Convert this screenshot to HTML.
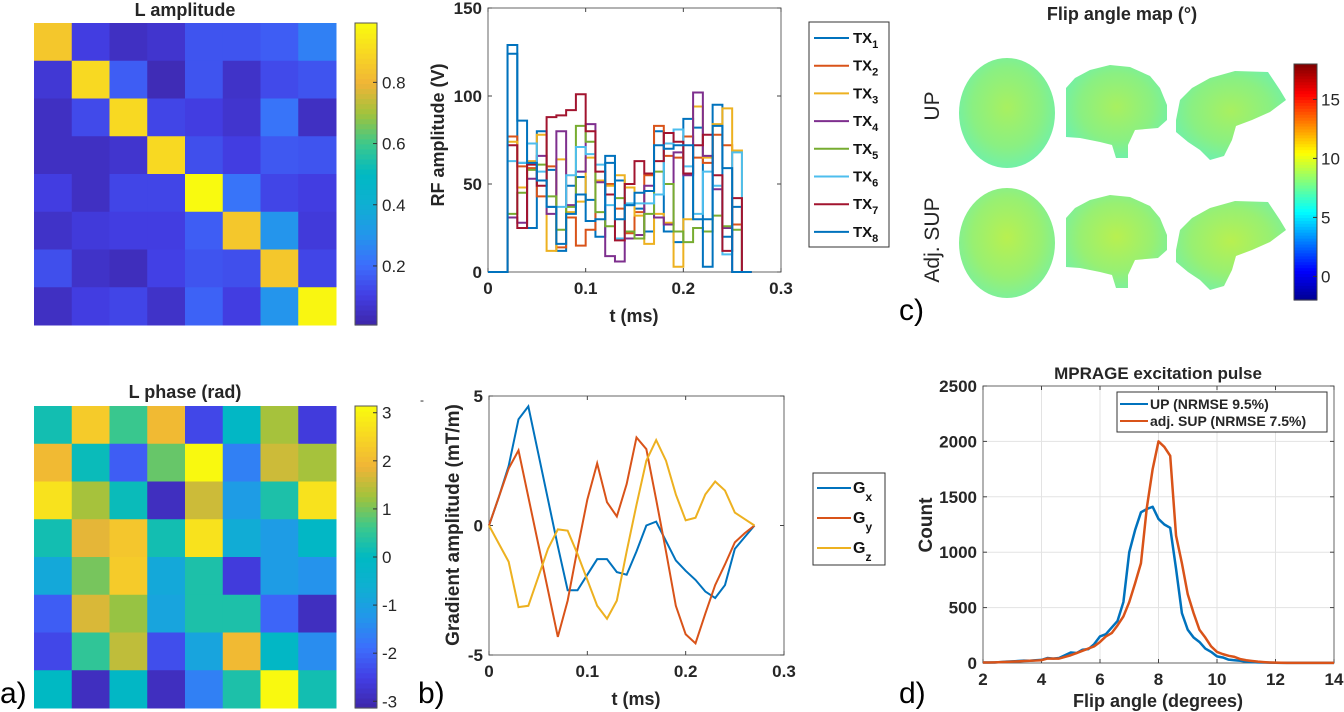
<!DOCTYPE html>
<html><head><meta charset="utf-8">
<style>
html,body{margin:0;padding:0;background:#fff;}
svg{display:block;font-family:"Liberation Sans",Arial,sans-serif;}
</style></head>
<body>
<svg id="fig" width="1344" height="712" viewBox="0 0 1344 712" xmlns="http://www.w3.org/2000/svg"></svg>
<script>
// ---------- DATA ----------
const ampRows = [
 [0.85,0.10,0.05,0.07,0.15,0.15,0.17,0.25],
 [0.08,0.90,0.17,0.03,0.15,0.06,0.13,0.15],
 [0.05,0.13,0.90,0.12,0.10,0.07,0.22,0.05],
 [0.05,0.05,0.07,0.90,0.14,0.10,0.16,0.15],
 [0.10,0.05,0.12,0.12,0.99,0.22,0.12,0.10],
 [0.06,0.09,0.10,0.10,0.17,0.85,0.30,0.09],
 [0.14,0.06,0.04,0.11,0.15,0.14,0.85,0.12],
 [0.05,0.10,0.12,0.06,0.18,0.10,0.30,0.98]
];
const phaseRows = [
 [0.2,2.3,0.6,2.0,-2.4,-0.1,1.3,-2.6],
 [2.0,0.1,-2.1,0.9,3.1,-1.6,1.6,1.3],
 [2.7,1.3,0.1,-2.9,1.6,-1.1,0.3,2.7],
 [0.2,1.8,2.2,0.2,2.7,-0.7,-1.1,-0.1],
 [-0.8,1.0,2.3,-0.8,0.3,-2.6,-1.1,-1.3],
 [-2.1,1.7,1.2,-0.9,0.3,0.3,-2.0,-2.9],
 [-2.4,0.5,1.5,-2.3,-0.9,2.0,-0.1,-1.4],
 [0.0,-2.9,-0.1,-2.9,-1.6,0.3,3.1,0.2]
];
const ampTicks = [0.2,0.4,0.6,0.8];
const phaseTicks = [-3,-2,-1,0,1,2,3];

const rfTX1 = [124,62,25,80,58,12,49,54,41,20,66,52,38,36,23,80,23,17,87,82,30,95,20,37];
const rfTX2 = [77,60,59,43,60,14,31,15,24,52,50,36,22,34,55,83,66,65,77,65,62,78,72,27];
const rfTX3 = [74,48,63,78,12,64,34,40,65,52,49,55,48,32,16,33,28,3,30,94,65,84,93,69];
const rfTX4 = [31,28,53,66,33,80,38,57,84,51,9,6,19,21,49,31,27,68,55,102,66,47,25,0];
const rfTX5 = [33,45,58,61,43,24,37,83,74,34,26,42,23,19,33,57,50,23,17,25,23,32,26,24];
const rfTX6 = [63,62,73,57,37,37,55,71,67,61,38,19,39,39,39,44,73,81,60,33,57,49,10,68];
const rfTX7 = [72,25,61,49,88,89,92,101,80,57,44,18,50,63,56,63,79,74,56,72,78,55,12,42];
const rfTX8 = [129,86,62,52,37,16,33,44,29,30,62,30,38,45,46,72,70,72,72,30,3,83,59,0];
const rfStart = 0.02, rfStep = 0.01;
const rfXTicks = [0,0.1,0.2,0.3];
const rfYTicks = [0,50,100,150];

const gradT = [0,0.01,0.02,0.03,0.04,0.05,0.06,0.07,0.08,0.09,0.10,0.11,0.12,0.13,0.14,0.15,0.16,0.17,0.18,0.19,0.20,0.21,0.22,0.23,0.24,0.25,0.26,0.27];
const gradGx = [0,1.1,2.3,4.1,4.6,2.8,1.0,-0.8,-2.5,-2.5,-1.9,-1.3,-1.3,-1.8,-1.9,-1.0,0.0,0.15,-0.6,-1.35,-1.75,-2.1,-2.55,-2.8,-2.3,-0.9,-0.45,0];
const gradGy = [0,1.1,2.2,2.9,1.1,-0.7,-2.5,-4.3,-2.9,-0.9,1.0,2.4,0.9,0.35,1.6,3.4,2.95,1.0,-1.0,-3.1,-4.2,-4.55,-3.4,-2.3,-1.5,-0.65,-0.3,0];
const gradGz = [0,-0.7,-1.4,-3.15,-3.1,-2.0,-0.9,-0.15,-0.2,-1.1,-2.1,-3.1,-3.6,-2.9,-1.0,0.8,2.5,3.3,2.5,1.2,0.2,0.3,1.2,1.7,1.35,0.5,0.25,0];
const gradXTicks = [0,0.1,0.2,0.3];
const gradYTicks = [-5,0,5];

const histStart = 2, histStep = 0.2;
const histUP = [5,5,5,8,12,15,18,22,20,25,28,45,40,45,70,95,90,120,125,170,240,260,320,380,550,1000,1200,1360,1390,1410,1300,1250,1220,850,450,300,230,190,130,100,60,50,30,25,20,12,8,6,4,3,2,1,1,1,1,1,1,1,1,1,1];
const histSUP = [5,5,6,8,10,12,15,18,20,22,25,40,40,40,55,70,90,110,130,150,190,240,270,340,420,550,720,900,1400,1750,2000,1950,1870,1150,900,620,450,300,230,150,100,80,65,55,35,25,18,12,8,5,3,2,1,1,1,1,1,1,1,1,1];
const histXTicks = [2,4,6,8,10,12,14];
const histYTicks = [0,500,1000,1500,2000,2500];
const flipTicks = [0,5,10,15];

// ---------- HELPERS ----------
const NS = "http://www.w3.org/2000/svg";
const svg = document.getElementById('fig');
function mk(tag, attrs, parent){
  const e = document.createElementNS(NS, tag);
  for (const k in attrs) e.setAttribute(k, attrs[k]);
  (parent||svg).appendChild(e);
  return e;
}
function txt(x,y,s,size,weight,anchor,parent){
  const t = mk('text',{x:x,y:y,'font-size':size,'font-weight':weight||'normal','text-anchor':anchor||'start',fill:'#262626'},parent);
  t.textContent = s;
  return t;
}
function lerpStops(stops, v){
  v = Math.max(0, Math.min(1, v));
  for (let i=0;i<stops.length-1;i++){
    const a=stops[i], b=stops[i+1];
    if (v>=a[0] && v<=b[0]){
      const f=(v-a[0])/(b[0]-a[0]);
      return 'rgb('+[1,2,3].map(j=>Math.round(a[j]+(b[j]-a[j])*f)).join(',')+')';
    }
  }
  const l=stops[stops.length-1]; return 'rgb('+l[1]+','+l[2]+','+l[3]+')';
}
const parula = [[0,62,38,168],[0.1,66,62,228],[0.2,60,110,252],[0.3,35,150,235],[0.4,15,175,210],[0.5,0,185,195],[0.6,60,200,140],[0.7,160,195,60],[0.8,240,180,55],[0.9,248,215,35],[1,249,251,14]];
const jet = [[0,0,0,143],[0.125,0,0,255],[0.375,0,255,255],[0.625,255,255,0],[0.875,255,0,0],[1,128,0,0]];

// ---------- HEATMAP ----------
function heatmap(name, rows, y0, vmin, vmax, ticks, title, titleY){
  const g = mk('g',{});
  
  
  const x0=34, w=302, cs=w/8;
  rows.forEach((row,r)=>row.forEach((v,c)=>{
    const rc = mk('rect',{x:x0+c*cs,y:y0+r*cs,width:cs+0.5,height:cs+0.5,fill:lerpStops(parula,(v-vmin)/(vmax-vmin))},g);
    
    
  }));
  const t = txt(185,titleY,title,18,'bold','middle');
  
  
  const cb = mk('g',{});
  
  
  const n=60;
  for(let i=0;i<n;i++){
    mk('rect',{x:355,y:y0+w*(1-(i+1)/n),width:22,height:w/n+0.6,fill:lerpStops(parula,(i+0.5)/n)},cb);
  }
  mk('rect',{x:355,y:y0,width:22,height:w,fill:'none',stroke:'#555','stroke-width':1},cb);
  ticks.forEach(tv=>{
    const yy = y0 + w*(1-(tv-vmin)/(vmax-vmin));
    mk('line',{x1:373,x2:377,y1:yy,y2:yy,stroke:'#333'},cb);
    const tl = txt(382,yy+6,String(tv),17,'normal','start',cb);
    
    
  });
}
heatmap('l-amplitude-heatmap', ampRows, 23, 0.007, 0.994, ampTicks, 'L amplitude', 16);
heatmap('l-phase-heatmap', phaseRows, 406, -3.14, 3.14, phaseTicks, 'L phase (rad)', 398);
txt(420,404,'-',12,'normal','start');

// ---------- AXES HELPER ----------
function axes(name, L, R, T, B, xmin, xmax, ymin, ymax, xt, yt, fmtX, fmtY, grid){
  const g = mk('g',{});
  
  
  const sx = v => L + (v-xmin)/(xmax-xmin)*(R-L);
  const sy = v => B - (v-ymin)/(ymax-ymin)*(B-T);
  if (grid){
    xt.forEach(v=>mk('line',{x1:sx(v),x2:sx(v),y1:T,y2:B,stroke:'#e3e3e3','stroke-width':1},g));
    yt.forEach(v=>mk('line',{x1:L,x2:R,y1:sy(v),y2:sy(v),stroke:'#e3e3e3','stroke-width':1},g));
  }
  mk('rect',{x:L,y:T,width:R-L,height:B-T,fill:'none',stroke:'#666','stroke-width':1},g);
  xt.forEach(v=>{
    mk('line',{x1:sx(v),x2:sx(v),y1:B,y2:B-4,stroke:'#444'},g);
    mk('line',{x1:sx(v),x2:sx(v),y1:T,y2:T+4,stroke:'#444'},g);
    const l = txt(sx(v),B+22,fmtX(v),17,'bold','middle',g);
    
    
  });
  yt.forEach(v=>{
    mk('line',{x1:L,x2:L+4,y1:sy(v),y2:sy(v),stroke:'#444'},g);
    mk('line',{x1:R,x2:R-4,y1:sy(v),y2:sy(v),stroke:'#444'},g);
    const l = txt(L-6,sy(v)+6,fmtY(v),17,'bold','end',g);
    
    
  });
  return {sx, sy, g};
}
const f1 = v => (v===0?'0':String(v));

// ---------- RF plot ----------
const rf = axes('rf-amplitude-axes', 488, 781, 8, 272, 0, 0.3, 0, 150, rfXTicks, rfYTicks, f1, f1, false);
const rfColors = ['#0072BD','#D95319','#EDB120','#7E2F8E','#77AC30','#4DBEEE','#A2142F','#0072BD'];
const rfSeries = [rfTX1,rfTX2,rfTX3,rfTX4,rfTX5,rfTX6,rfTX7,rfTX8];
rfSeries.forEach((vals,k)=>{
  let d = 'M'+rf.sx(0)+','+rf.sy(0)+' L'+rf.sx(rfStart)+','+rf.sy(0);
  vals.forEach((v,i)=>{
    const t0 = rfStart + i*rfStep, t1 = t0 + rfStep;
    d += ' L'+rf.sx(t0)+','+rf.sy(v)+' L'+rf.sx(t1)+','+rf.sy(v);
  });
  const tEnd = rfStart + vals.length*rfStep;
  d += ' L'+rf.sx(tEnd)+','+rf.sy(0)+' L'+rf.sx(tEnd+0.01)+','+rf.sy(0);
  const p = mk('path',{d:d,fill:'none',stroke:rfColors[k],'stroke-width':2,'stroke-linejoin':'miter'});
  
  
});
let t;
t = txt(634,322,'t (ms)',18,'bold','middle');


t = txt(0,0,'RF amplitude (V)',18,'bold','middle');
t.setAttribute('transform','translate(444,135) rotate(-90)');


const rfLeg = mk('g',{});


mk('rect',{x:809,y:22,width:80,height:225,fill:'#fff',stroke:'#333','stroke-width':1},rfLeg);
rfColors.forEach((c,k)=>{
  const yy = 38 + k*27.7;
  mk('line',{x1:814,x2:849,y1:yy,y2:yy,stroke:c,'stroke-width':2},rfLeg);
  const lt = mk('text',{x:853,y:yy+5,'font-size':15,'font-weight':'bold',fill:'#111'},rfLeg);
  lt.textContent = 'TX';
  const sub = mk('tspan',{dy:5,'font-size':11},lt);
  sub.textContent = String(k+1);
  
  
});

// ---------- Gradient plot ----------
const gr = axes('gradient-axes', 489, 784, 396, 655, 0, 0.3, -5, 5, gradXTicks, gradYTicks, f1, f1, false);
const gradSeries = [gradGx, gradGy, gradGz];
const gradColors = ['#0072BD','#D95319','#EDB120'];
const gradNames = ['x','y','z'];
gradSeries.forEach((vals,k)=>{
  const d = vals.map((v,i)=>(i?'L':'M')+gr.sx(gradT[i])+','+gr.sy(v)).join(' ');
  const p = mk('path',{d:d,fill:'none',stroke:gradColors[k],'stroke-width':2});
  
  
});
t = txt(636,705,'t (ms)',18,'bold','middle');


t = txt(0,0,'Gradient amplitude (mT/m)',19,'bold','middle');
t.setAttribute('transform','translate(459,525) rotate(-90)');


const gLeg = mk('g',{});


mk('rect',{x:813,y:473,width:72,height:92,fill:'#fff',stroke:'#333','stroke-width':1},gLeg);
gradColors.forEach((c,k)=>{
  const yy = 488 + k*30;
  mk('line',{x1:817,x2:851,y1:yy,y2:yy,stroke:c,'stroke-width':2},gLeg);
  const lt = mk('text',{x:853,y:yy+5,'font-size':16,'font-weight':'bold',fill:'#111'},gLeg);
  lt.textContent = 'G';
  const sub = mk('tspan',{dy:8,'font-size':12},lt);
  sub.textContent = gradNames[k];
  
  
});

// ---------- Histogram ----------
const hs = axes('histogram-axes', 983, 1334, 386, 663, 2, 14, 0, 2500, histXTicks, histYTicks, f1, f1, true);
[[histUP,'#0072BD','hist-line-up'],[histSUP,'#D95319','hist-line-adj-sup']].forEach(([vals,c,nm])=>{
  const d = vals.map((v,i)=>(i?'L':'M')+hs.sx(histStart+i*histStep)+','+hs.sy(v)).join(' ');
  const p = mk('path',{d:d,fill:'none',stroke:c,'stroke-width':2.5,'stroke-linejoin':'round'});
  
  
});
t = txt(1158,379,'MPRAGE excitation pulse',17,'bold','middle');


t = txt(1158,707,'Flip angle (degrees)',18,'bold','middle');


t = txt(0,0,'Count',19,'bold','middle');
t.setAttribute('transform','translate(932,525) rotate(-90)');


const hLeg = mk('g',{});


mk('rect',{x:1117,y:392,width:210,height:40,fill:'#fff',stroke:'#333','stroke-width':1},hLeg);
mk('line',{x1:1120,x2:1148,y1:404,y2:404,stroke:'#0072BD','stroke-width':2},hLeg);
mk('line',{x1:1120,x2:1148,y1:421,y2:421,stroke:'#D95319','stroke-width':2},hLeg);
t = txt(1150,409,'UP (NRMSE 9.5%)',14,'bold','start',hLeg);


t = txt(1150,426,'adj. SUP (NRMSE 7.5%)',14,'bold','start',hLeg);



// ---------- Flip angle maps ----------
const defs = mk('defs',{});
const rg = mk('radialGradient',{id:'brainGrad',cx:'50%',cy:'45%',r:'60%'},defs);
mk('stop',{offset:'0%','stop-color':'#a8f060'},rg);
mk('stop',{offset:'60%','stop-color':'#8af082'},rg);
mk('stop',{offset:'100%','stop-color':'#6cf0b0'},rg);
const rg2 = mk('radialGradient',{id:'brainGrad2',cx:'50%',cy:'45%',r:'60%'},defs);
mk('stop',{offset:'0%','stop-color':'#b8f050'},rg2);
mk('stop',{offset:'60%','stop-color':'#98f072'},rg2);
mk('stop',{offset:'100%','stop-color':'#78f0a2'},rg2);
function brainRow(dy, fill, label){
  const g = mk('g',{transform:'translate(0,'+dy+')'});
  
  
  const a = mk('ellipse',{cx:1007,cy:113,rx:48,ry:55,fill:fill},g);
  
  
  const s1 = mk('path',{d:'M1066,88 L1075,78 L1090,70 L1110,65 L1130,67 L1150,76 L1160,88 L1167,105 L1167,120 L1158,128 L1135,130 L1128,145 L1128,158 L1116,158 L1112,145 L1100,142 L1080,138 L1066,137 Z',fill:fill},g);
  
  
  const s2 = mk('path',{d:'M1176,120 L1180,100 L1192,88 L1210,78 L1235,71 L1268,72 L1280,90 L1286,100 L1270,112 L1252,120 L1236,126 L1232,140 L1224,156 L1210,160 L1200,150 L1188,142 L1176,132 Z',fill:fill},g);
  
  
}
brainRow(0,'url(#brainGrad)','up');
brainRow(130,'url(#brainGrad2)','adj-sup');
t = txt(1122,20,'Flip angle map (°)',18,'bold','middle');


t = txt(0,0,'UP',21,'normal','middle');
t.setAttribute('transform','translate(939,106) rotate(-90)');


t = txt(0,0,'Adj. SUP',21,'normal','middle');
t.setAttribute('transform','translate(939,240) rotate(-90)');


const jcb = mk('g',{});


const jT=64, jB=300, jmin=-2, jmax=18;
for(let i=0;i<80;i++){
  mk('rect',{x:1294,y:jB-(i+1)*(jB-jT)/80,width:23,height:(jB-jT)/80+0.6,fill:lerpStops(jet,(i+0.5)/80)},jcb);
}
mk('rect',{x:1294,y:jT,width:23,height:jB-jT,fill:'none',stroke:'#444'},jcb);
flipTicks.forEach(v=>{
  const yy = jB-(v-jmin)/(jmax-jmin)*(jB-jT);
  mk('line',{x1:1313,x2:1317,y1:yy,y2:yy,stroke:'#333'},jcb);
  const l = txt(1321,yy+6,String(v),17,'normal','start',jcb);
  
  
});

// ---------- Panel letters ----------
[['a)',0,703],['b)',418,703],['c)',899,320],['d)',899,703]].forEach(([s,x,y])=>{
  const l = txt(x,y,s,30,'normal','start');
  l.setAttribute('fill','#000');
  
  
});
</script>
</body></html>
